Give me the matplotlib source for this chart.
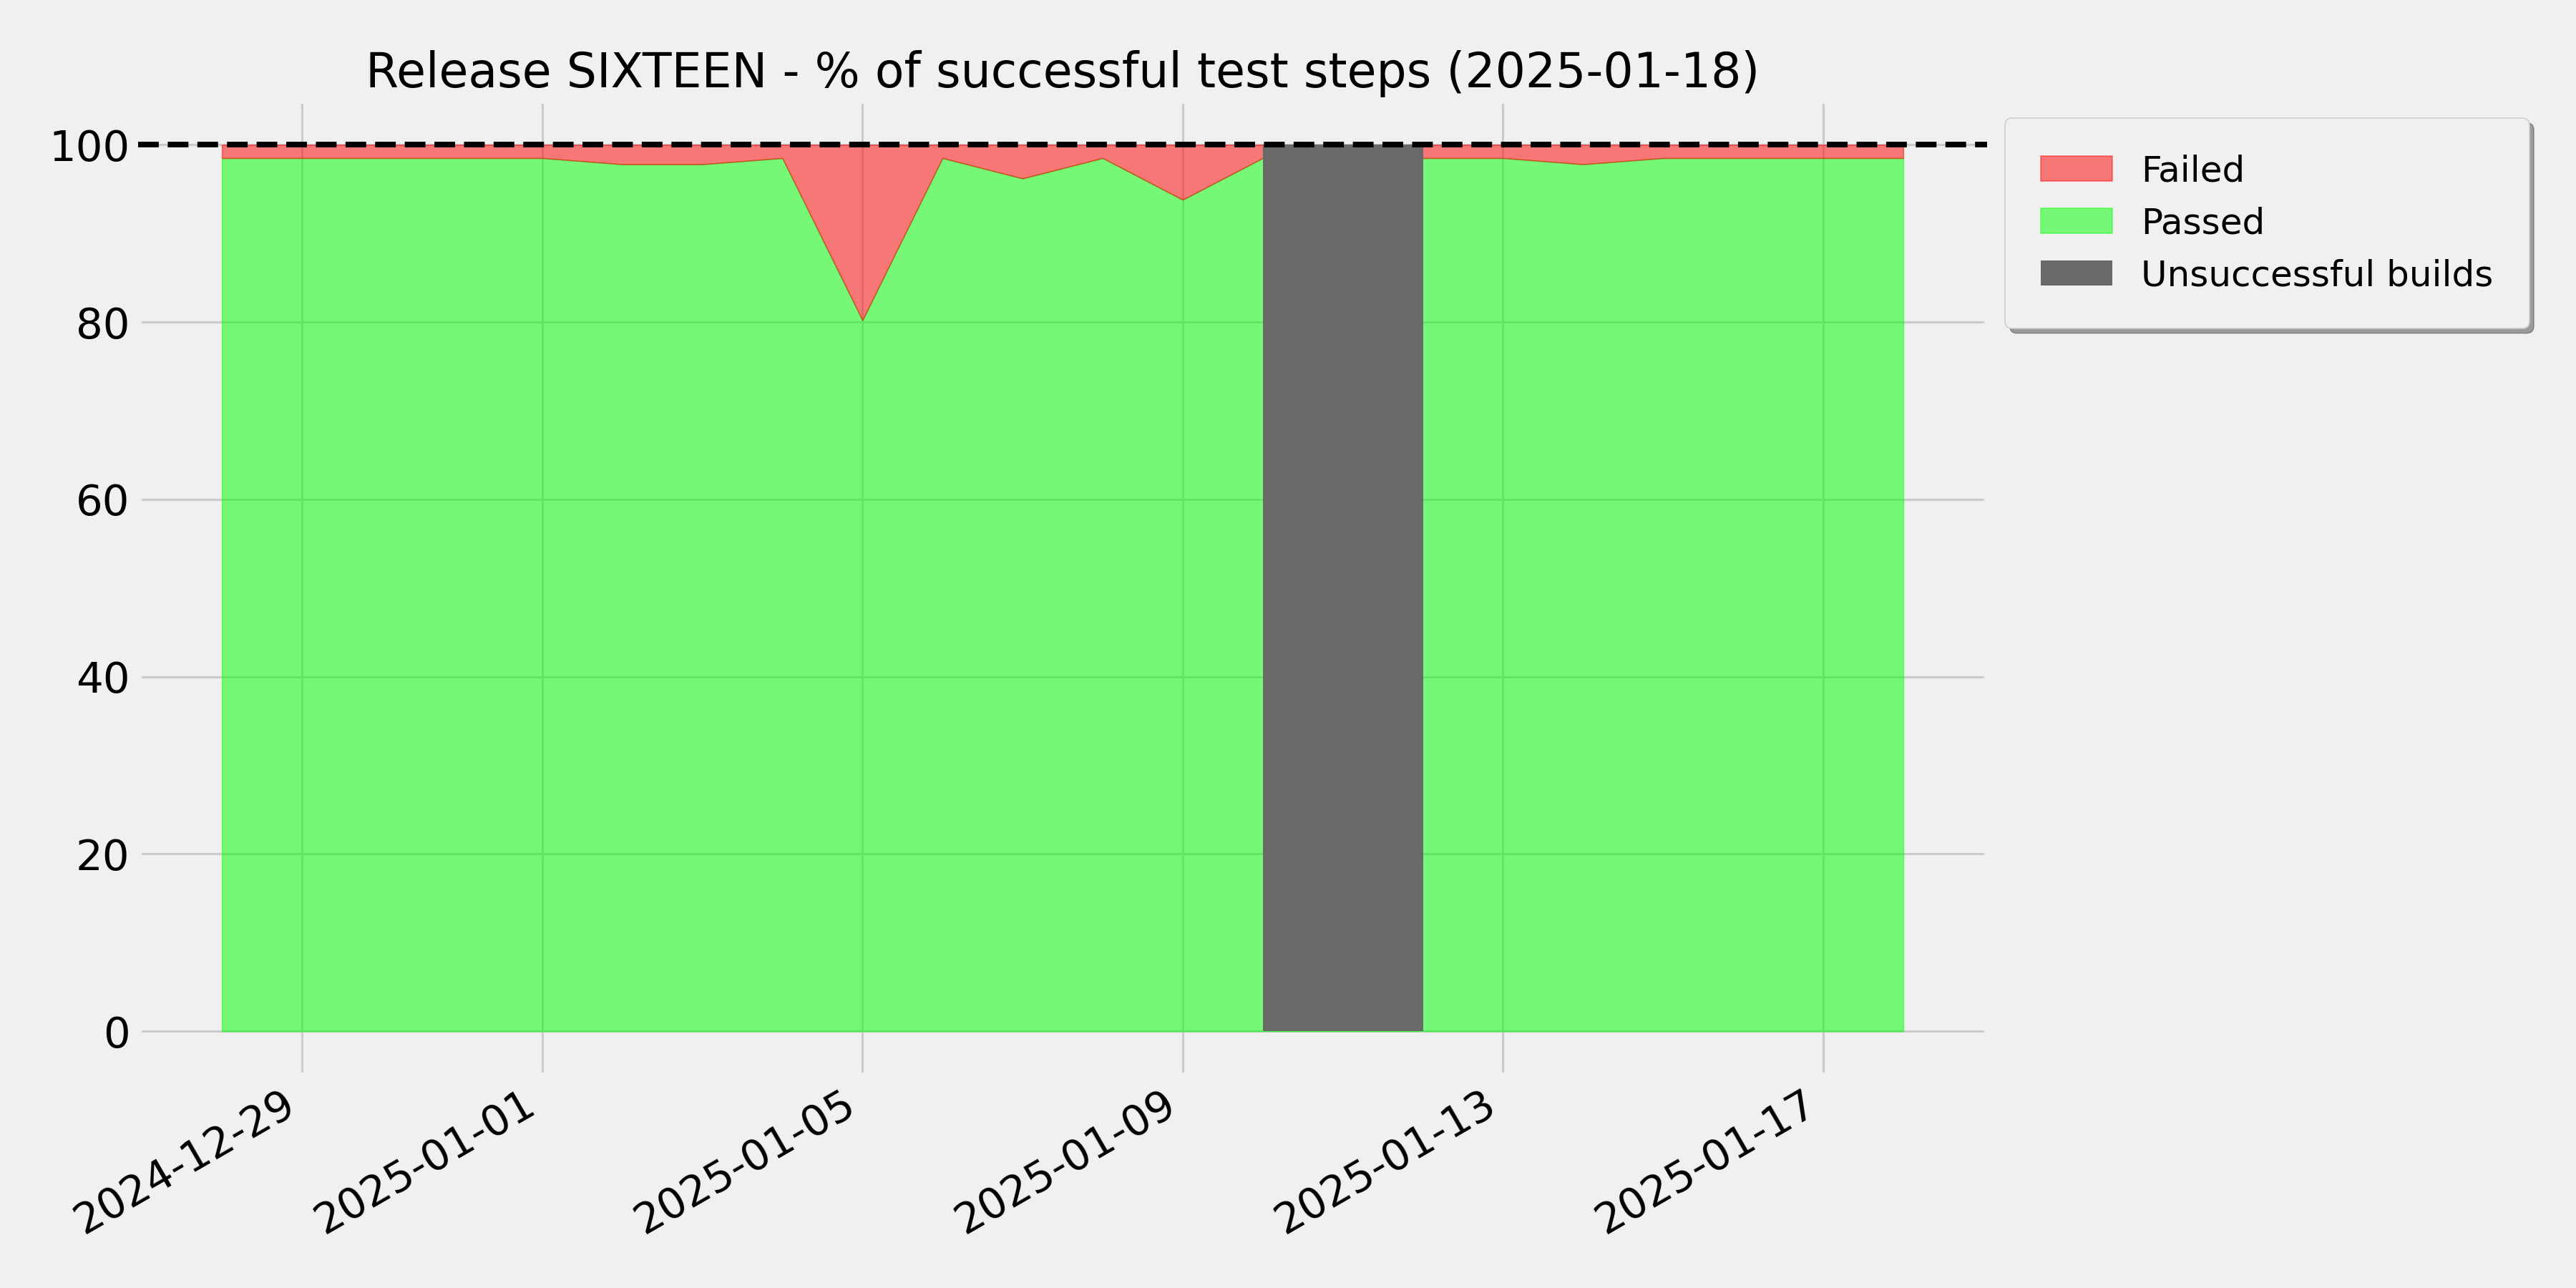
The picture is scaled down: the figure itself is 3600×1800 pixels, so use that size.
"""Release SIXTEEN - percentuale di step di test riusciti per giorno."""

import matplotlib

matplotlib.use("Agg")
import matplotlib.dates as mdates  # noqa: E402
import matplotlib.patches as mpatches  # noqa: E402
import matplotlib.pyplot as plt  # noqa: E402
import numpy as np  # noqa: E402

RELEASE = "SIXTEEN"
REPORT_DATE = "2025-01-18"

# giorni con build riuscita (il 2025-01-11 manca: build fallita)
dates = [
    "2024-12-28", "2024-12-29", "2024-12-30", "2024-12-31", "2025-01-01",
    "2025-01-02", "2025-01-03", "2025-01-04", "2025-01-05", "2025-01-06",
    "2025-01-07", "2025-01-08", "2025-01-09", "2025-01-10", "2025-01-12",
    "2025-01-13", "2025-01-14", "2025-01-15", "2025-01-16", "2025-01-17",
    "2025-01-18",
]
passed_pct = [
    98.5, 98.5, 98.5, 98.5, 98.5,
    97.8, 97.8, 98.5, 80.2, 98.5,
    96.2, 98.5, 93.8, 98.5, 98.5,
    98.5, 97.8, 98.5, 98.5, 98.5,
    98.5,
]
failed_pct = [
    1.5, 1.5, 1.5, 1.5, 1.5,
    2.2, 2.2, 1.5, 19.8, 1.5,
    3.8, 1.5, 6.2, 1.5, 1.5,
    1.5, 2.2, 1.5, 1.5, 1.5,
    1.5,
]
unsuccessful_builds = ["2025-01-11"]

plt.style.use("fivethirtyeight")

x = np.array(dates, dtype="datetime64[D]")
passed = np.array(passed_pct)
failed = np.array(failed_pct)
bad = np.array(unsuccessful_builds, dtype="datetime64[D]")

fig, ax = plt.subplots(figsize=(16, 8), dpi=225)
ax.fill_between(x, 0, passed, color="lime", alpha=0.5, label="Passed")
ax.fill_between(x, passed, passed + failed, color="red", alpha=0.5, label="Failed")
ax.bar(bad, 100, width=2, color="dimgray", linewidth=0, zorder=2,
       label="Unsuccessful builds")
ax.axhline(100, color="black", linestyle="--", linewidth=2.5, zorder=3)
ax.set_ylim(-5, 105)

ax.set_title(f"Release {RELEASE} - % of successful test steps ({REPORT_DATE})",
             fontsize=21.3)
ax.xaxis.set_major_formatter(mdates.DateFormatter("%Y-%m-%d"))
ax.tick_params(labelsize=19)
fig.autofmt_xdate()

handles = [
    mpatches.Patch(facecolor="red", edgecolor="red", alpha=0.5, label="Failed"),
    mpatches.Patch(facecolor="lime", edgecolor="lime", alpha=0.5, label="Passed"),
    mpatches.Patch(facecolor="dimgray", linewidth=0, label="Unsuccessful builds"),
]
ax.legend(handles=handles, loc="upper left", bbox_to_anchor=(1.0, 1.0),
          fontsize=16, borderpad=1, shadow=True, fancybox=True)

fig.subplots_adjust(left=0.0535, right=0.7715, top=0.922, bottom=0.165)
fig.savefig("out.png", dpi=225)
plt.close(fig)
